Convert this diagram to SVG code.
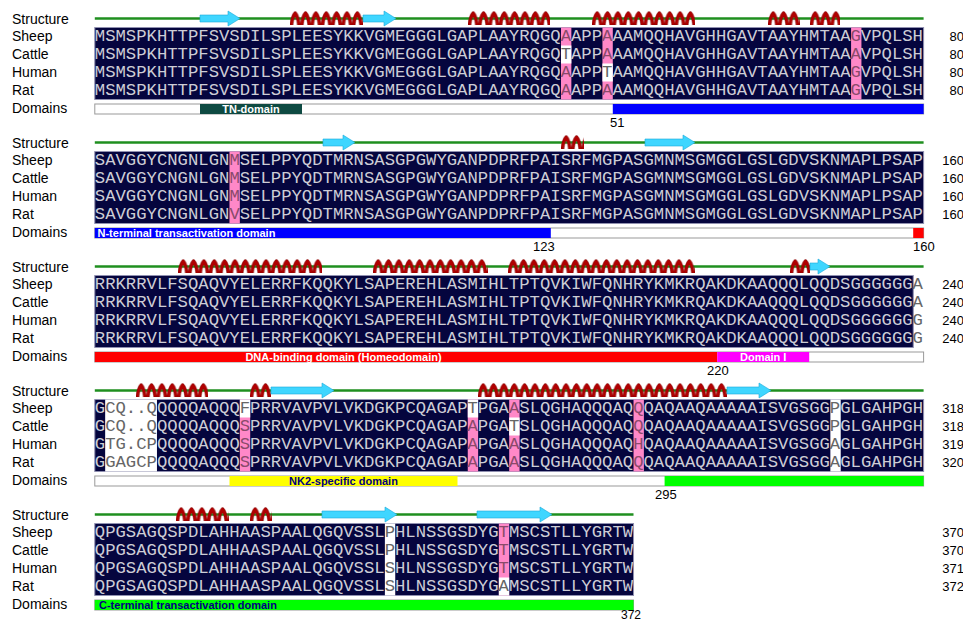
<svg xmlns="http://www.w3.org/2000/svg" width="963" height="621" viewBox="0 0 963 621">
<style>
.lbl{font-family:"Liberation Sans",Arial,sans-serif;font-size:14px;fill:#000}
.num{font-family:"Liberation Sans",Arial,sans-serif;font-size:13px;fill:#000}
.seq{font-family:"Liberation Mono","Courier New",monospace;font-size:17.26px;fill:#cdcdd6}
.w{fill:#666}
.p{fill:#8a4a6a}
.bg{fill:#05053e;stroke:#9090b0;stroke-width:1}
.pc{fill:#ff88c8}
.wc{fill:#fff}
.line{stroke:#1f8f1f;stroke-width:2.5}
.strand{fill:#3fd6ff;stroke:#1aa8d8;stroke-width:0.6}
.bar{fill:#fff;stroke:#999;stroke-width:1}
.dl{font-family:"Liberation Sans",Arial,sans-serif;font-size:11px;font-weight:bold}
</style>
<defs>
<pattern id="hx" patternUnits="userSpaceOnUse" x="0" y="11" width="10.36" height="14">
<path d="M-0.3,14 C1.2,5 3.3,0.6 5.18,0.6 C7.06,0.6 9.16,5 10.66,14 L7.4,14 C6.7,9.5 6.1,6 5.18,6 C4.26,6 3.66,9.5 2.96,14 Z" fill="#b00000" stroke="#7a0000" stroke-width="0.5"/>
</pattern>
</defs>
<rect width="963" height="621" fill="#fff"/>

<!-- Block 1 -->
<g id="block1">
<g class="labels">
<text class="lbl" x="12" y="23.5">Structure</text>
<text class="lbl" x="12" y="41">Sheep</text>
<text class="lbl" x="12" y="59">Cattle</text>
<text class="lbl" x="12" y="77">Human</text>
<text class="lbl" x="12" y="95">Rat</text>
<text class="lbl" x="12" y="113">Domains</text>
</g>
<g id="structure1">
<line class="line" x1="94.8" y1="18.5" x2="923.6" y2="18.5"/>
<polygon class="strand" points="200,15 228,15 228,11 240,18.5 228,26 228,22 200,22"/>
<polygon class="strand" points="363,15 384,15 384,11 396,18.5 384,26 384,22 363,22"/>
<g transform="translate(290,0)"><rect y="11" width="73" height="14" fill="url(#hx)"/></g>
<g transform="translate(468,0)"><rect y="11" width="82" height="14" fill="url(#hx)"/></g>
<g transform="translate(592,0)"><rect y="11" width="103" height="14" fill="url(#hx)"/></g>
<g transform="translate(768,0)"><rect y="11" width="32" height="14" fill="url(#hx)"/></g>
<g transform="translate(810,0)"><rect y="11" width="30" height="14" fill="url(#hx)"/></g>
</g>
<g id="alignment1">
<rect class="bg" x="94.8" y="27.5" width="828.8" height="72"/>
<rect class="pc" x="561" y="27.5" width="10.36" height="72"/>
<rect class="wc" x="561" y="45.5" width="10.36" height="18"/>
<rect class="pc" x="602.44" y="27.5" width="10.36" height="72"/>
<rect class="wc" x="602.44" y="63.5" width="10.36" height="18"/>
<rect class="pc" x="851.08" y="27.5" width="10.36" height="72"/>
<text class="seq" x="94.8" y="41">MSMSPKHTTPFSVSDILSPLEESYKKVGMEGGGLGAPLAAYRQGQ<tspan class="p">A</tspan>APP<tspan class="p">A</tspan>AAMQQHAVGHHGAVTAAYHMTAA<tspan class="p">G</tspan>VPQLSH</text>
<text class="seq" x="94.8" y="59">MSMSPKHTTPFSVSDILSPLEESYKKVGMEGGGLGAPLAAYRQGQ<tspan class="w">T</tspan>APP<tspan class="p">A</tspan>AAMQQHAVGHHGAVTAAYHMTAA<tspan class="p">A</tspan>VPQLSH</text>
<text class="seq" x="94.8" y="77">MSMSPKHTTPFSVSDILSPLEESYKKVGMEGGGLGAPLAAYRQGQ<tspan class="p">A</tspan>APP<tspan class="w">T</tspan>AAMQQHAVGHHGAVTAAYHMTAA<tspan class="p">G</tspan>VPQLSH</text>
<text class="seq" x="94.8" y="95">MSMSPKHTTPFSVSDILSPLEESYKKVGMEGGGLGAPLAAYRQGQ<tspan class="p">A</tspan>APP<tspan class="p">A</tspan>AAMQQHAVGHHGAVTAAYHMTAA<tspan class="p">G</tspan>VPQLSH</text>
<text class="num" x="964" y="41" text-anchor="end">80</text>
<text class="num" x="964" y="59" text-anchor="end">80</text>
<text class="num" x="964" y="77" text-anchor="end">80</text>
<text class="num" x="964" y="95" text-anchor="end">80</text>
</g>
<g id="domains1">
<rect class="bar" x="94.8" y="104" width="828.8" height="10"/>
<rect x="200" y="104" width="102" height="10" fill="#0e4a42"/>
<text class="dl" x="251" y="112.8" text-anchor="middle" fill="#fff">TN-domain</text>
<rect x="612.8" y="104" width="310.8" height="10" fill="#0000ff"/>
<text class="num" x="610" y="126.5">51</text>
</g>
</g>

<!-- Block 2 -->
<g id="block2" transform="translate(0,124)">
<g class="labels">
<text class="lbl" x="12" y="23.5">Structure</text>
<text class="lbl" x="12" y="41">Sheep</text>
<text class="lbl" x="12" y="59">Cattle</text>
<text class="lbl" x="12" y="77">Human</text>
<text class="lbl" x="12" y="95">Rat</text>
<text class="lbl" x="12" y="113">Domains</text>
</g>
<g id="structure2">
<line class="line" x1="94.8" y1="18.5" x2="923.6" y2="18.5"/>
<polygon class="strand" points="323,15 343,15 343,11 355,18.5 343,26 343,22 323,22"/>
<polygon class="strand" points="645,15 683,15 683,11 695,18.5 683,26 683,22 645,22"/>
<g transform="translate(561,0)"><rect y="11" width="23" height="14" fill="url(#hx)"/></g>
</g>
<g id="alignment2">
<rect class="bg" x="94.8" y="27.5" width="828.8" height="72"/>
<rect class="pc" x="229.48" y="27.5" width="10.36" height="72"/>
<text class="seq" x="94.8" y="41">SAVGGYCNGNLGN<tspan class="p">M</tspan>SELPPYQDTMRNSASGPGWYGANPDPRFPAISRFMGPASGMNMSGMGGLGSLGDVSKNMAPLPSAP</text>
<text class="seq" x="94.8" y="59">SAVGGYCNGNLGN<tspan class="p">M</tspan>SELPPYQDTMRNSASGPGWYGANPDPRFPAISRFMGPASGMNMSGMGGLGSLGDVSKNMAPLPSAP</text>
<text class="seq" x="94.8" y="77">SAVGGYCNGNLGN<tspan class="p">M</tspan>SELPPYQDTMRNSASGPGWYGANPDPRFPAISRFMGPASGMNMSGMGGLGSLGDVSKNMAPLPSAP</text>
<text class="seq" x="94.8" y="95">SAVGGYCNGNLGN<tspan class="p">V</tspan>SELPPYQDTMRNSASGPGWYGANPDPRFPAISRFMGPASGMNMSGMGGLGSLGDVSKNMAPLPSAP</text>
<text class="num" x="964" y="41" text-anchor="end">160</text>
<text class="num" x="964" y="59" text-anchor="end">160</text>
<text class="num" x="964" y="77" text-anchor="end">160</text>
<text class="num" x="964" y="95" text-anchor="end">160</text>
</g>
<g id="domains2">
<rect class="bar" x="94.8" y="104" width="828.8" height="10"/>
<rect x="94.8" y="104" width="456" height="10" fill="#0000ff"/>
<text class="dl" x="97.5" y="112.8" fill="#fff">N-terminal transactivation domain</text>
<rect x="913.2" y="104" width="10.4" height="10" fill="#ff0000"/>
<text class="num" x="533" y="126.5">123</text>
<text class="num" x="913" y="126.5">160</text>
</g>
</g>

<!-- Block 3 -->
<g id="block3" transform="translate(0,248)">
<g class="labels">
<text class="lbl" x="12" y="23.5">Structure</text>
<text class="lbl" x="12" y="41">Sheep</text>
<text class="lbl" x="12" y="59">Cattle</text>
<text class="lbl" x="12" y="77">Human</text>
<text class="lbl" x="12" y="95">Rat</text>
<text class="lbl" x="12" y="113">Domains</text>
</g>
<g id="structure3">
<line class="line" x1="94.8" y1="18.5" x2="923.6" y2="18.5"/>
<g transform="translate(178,0)"><rect y="11" width="144" height="14" fill="url(#hx)"/></g>
<g transform="translate(373,0)"><rect y="11" width="115" height="14" fill="url(#hx)"/></g>
<g transform="translate(508,0)"><rect y="11" width="187" height="14" fill="url(#hx)"/></g>
<g transform="translate(790,0)"><rect y="11" width="20" height="14" fill="url(#hx)"/></g>
<polygon class="strand" points="810,15 818,15 818,11 830,18.5 818,26 818,22 810,22"/>
</g>
<g id="alignment3">
<rect class="bg" x="94.8" y="27.5" width="818.44" height="72"/>
<text class="seq" x="94.8" y="41">RRKRRVLFSQAQVYELERRFKQQKYLSAPEREHLASMIHLTPTQVKIWFQNHRYKMKRQAKDKAAQQQLQQDSGGGGGG<tspan class="w">A</tspan></text>
<text class="seq" x="94.8" y="59">RRKRRVLFSQAQVYELERRFKQQKYLSAPEREHLASMIHLTPTQVKIWFQNHRYKMKRQAKDKAAQQQLQQDSGGGGGG<tspan class="w">A</tspan></text>
<text class="seq" x="94.8" y="77">RRKRRVLFSQAQVYELERRFKQQKYLSAPEREHLASMIHLTPTQVKIWFQNHRYKMKRQAKDKAAQQQLQQDSGGGGGG<tspan class="w">G</tspan></text>
<text class="seq" x="94.8" y="95">RRKRRVLFSQAQVYELERRFKQQKYLSAPEREHLASMIHLTPTQVKIWFQNHRYKMKRQAKDKAAQQQLQQDSGGGGGG<tspan class="w">G</tspan></text>
<text class="num" x="964" y="41" text-anchor="end">240</text>
<text class="num" x="964" y="59" text-anchor="end">240</text>
<text class="num" x="964" y="77" text-anchor="end">240</text>
<text class="num" x="964" y="95" text-anchor="end">240</text>
</g>
<g id="domains3">
<rect class="bar" x="94.8" y="104" width="828.8" height="10"/>
<rect x="94.8" y="104" width="622.4" height="10" fill="#ff0000"/>
<text class="dl" x="343.5" y="112.8" text-anchor="middle" fill="#fff">DNA-binding domain (Homeodomain)</text>
<rect x="717.2" y="104" width="92" height="10" fill="#ff00ff"/>
<text class="dl" x="763.2" y="112.8" text-anchor="middle" fill="#fff">Domain I</text>
<text class="num" x="707" y="126.5">220</text>
</g>
</g>

<!-- Block 4 -->
<g id="block4" transform="translate(0,372)">
<g class="labels">
<text class="lbl" x="12" y="23.5">Structure</text>
<text class="lbl" x="12" y="41">Sheep</text>
<text class="lbl" x="12" y="59">Cattle</text>
<text class="lbl" x="12" y="77">Human</text>
<text class="lbl" x="12" y="95">Rat</text>
<text class="lbl" x="12" y="113">Domains</text>
</g>
<g id="structure4">
<line class="line" x1="94.8" y1="18.5" x2="923.6" y2="18.5"/>
<g transform="translate(136,0)"><rect y="11" width="72" height="14" fill="url(#hx)"/></g>
<g transform="translate(250,0)"><rect y="11" width="21" height="14" fill="url(#hx)"/></g>
<g transform="translate(478,0)"><rect y="11" width="249" height="14" fill="url(#hx)"/></g>
<polygon class="strand" points="271,15 322,15 322,11 334,18.5 322,26 322,22 271,22"/>
<polygon class="strand" points="727,15 759,15 759,11 771,18.5 759,26 759,22 727,22"/>
</g>
<g id="alignment4">
<rect class="bg" x="94.8" y="27.5" width="828.8" height="72"/>
<rect class="wc" x="105.16" y="27.5" width="51.8" height="72"/>
<rect class="pc" x="239.84" y="27.5" width="10.36" height="72"/>
<rect class="wc" x="239.84" y="27.5" width="10.36" height="18"/>
<rect class="pc" x="467.76" y="27.5" width="10.36" height="72"/>
<rect class="wc" x="467.76" y="27.5" width="10.36" height="18"/>
<rect class="pc" x="509.2" y="27.5" width="10.36" height="72"/>
<rect class="wc" x="509.2" y="45.5" width="10.36" height="18"/>
<rect class="pc" x="633.52" y="27.5" width="10.36" height="72"/>
<rect class="wc" x="830.36" y="27.5" width="10.36" height="72"/>
<text class="seq" x="94.8" y="41">G<tspan class="w">CQ..Q</tspan>QQQQAQQQ<tspan class="w">F</tspan>PRRVAVPVLVKDGKPCQAGAP<tspan class="w">T</tspan>PGA<tspan class="p">A</tspan>SLQGHAQQQAQ<tspan class="p">Q</tspan>QAQAAQAAAAAISVGSGG<tspan class="w">P</tspan>GLGAHPGH</text>
<text class="seq" x="94.8" y="59">G<tspan class="w">CQ..Q</tspan>QQQQAQQQ<tspan class="p">S</tspan>PRRVAVPVLVKDGKPCQAGAP<tspan class="p">A</tspan>PGA<tspan class="w">T</tspan>SLQGHAQQQAQ<tspan class="p">Q</tspan>QAQAAQAAAAAISVGSGG<tspan class="w">P</tspan>GLGAHPGH</text>
<text class="seq" x="94.8" y="77">G<tspan class="w">TG.CP</tspan>QQQQAQQQ<tspan class="p">S</tspan>PRRVAVPVLVKDGKPCQAGAP<tspan class="p">A</tspan>PGA<tspan class="p">A</tspan>SLQGHAQQQAQ<tspan class="p">H</tspan>QAQAAQAAAAAISVGSGG<tspan class="w">A</tspan>GLGAHPGH</text>
<text class="seq" x="94.8" y="95">G<tspan class="w">GAGCP</tspan>QQQQAQQQ<tspan class="p">S</tspan>PRRVAVPVLVKDGKPCQAGAP<tspan class="p">A</tspan>PGA<tspan class="p">A</tspan>SLQGHAQQQAQ<tspan class="p">Q</tspan>QAQAAQAAAAAISVGSGG<tspan class="w">A</tspan>GLGAHPGH</text>
<text class="num" x="964" y="41" text-anchor="end">318</text>
<text class="num" x="964" y="59" text-anchor="end">318</text>
<text class="num" x="964" y="77" text-anchor="end">319</text>
<text class="num" x="964" y="95" text-anchor="end">320</text>
</g>
<g id="domains4">
<rect class="bar" x="94.8" y="104" width="828.8" height="10"/>
<rect x="229.5" y="104" width="228" height="10" fill="#ffff00"/>
<text class="dl" x="343.5" y="112.8" text-anchor="middle" fill="#000080">NK2-specific domain</text>
<rect x="664.6" y="104" width="259" height="10" fill="#00ff00"/>
<text class="num" x="655" y="126.5">295</text>
</g>
</g>

<!-- Block 5 -->
<g id="block5" transform="translate(0,496)">
<g class="labels">
<text class="lbl" x="12" y="23.5">Structure</text>
<text class="lbl" x="12" y="41">Sheep</text>
<text class="lbl" x="12" y="59">Cattle</text>
<text class="lbl" x="12" y="77">Human</text>
<text class="lbl" x="12" y="95">Rat</text>
<text class="lbl" x="12" y="113">Domains</text>
</g>
<g id="structure5">
<line class="line" x1="94.8" y1="18.5" x2="633.5" y2="18.5"/>
<g transform="translate(176,0)"><rect y="11" width="53" height="14" fill="url(#hx)"/></g>
<g transform="translate(250,0)"><rect y="11" width="22" height="14" fill="url(#hx)"/></g>
<polygon class="strand" points="322,15 385,15 385,11 397,18.5 385,26 385,22 322,22"/>
<polygon class="strand" points="477,15 540,15 540,11 552,18.5 540,26 540,22 477,22"/>
</g>
<g id="alignment5">
<rect class="bg" x="94.8" y="27.5" width="538.72" height="72"/>
<rect class="wc" x="384.88" y="27.5" width="10.36" height="72"/>
<rect class="pc" x="498.84" y="27.5" width="10.36" height="72"/>
<rect class="wc" x="498.84" y="81.5" width="10.36" height="18"/>
<text class="seq" x="94.8" y="41">QPGSAGQSPDLAHHAASPAALQGQVSSL<tspan class="w">P</tspan>HLNSSGSDYG<tspan class="p">T</tspan>MSCSTLLYGRTW</text>
<text class="seq" x="94.8" y="59">QPGSAGQSPDLAHHAASPAALQGQVSSL<tspan class="w">P</tspan>HLNSSGSDYG<tspan class="p">T</tspan>MSCSTLLYGRTW</text>
<text class="seq" x="94.8" y="77">QPGSAGQSPDLAHHAASPAALQGQVSSL<tspan class="w">S</tspan>HLNSSGSDYG<tspan class="p">T</tspan>MSCSTLLYGRTW</text>
<text class="seq" x="94.8" y="95">QPGSAGQSPDLAHHAASPAALQGQVSSL<tspan class="w">S</tspan>HLNSSGSDYG<tspan class="w">A</tspan>MSCSTLLYGRTW</text>
<text class="num" x="964" y="41" text-anchor="end">370</text>
<text class="num" x="964" y="59" text-anchor="end">370</text>
<text class="num" x="964" y="77" text-anchor="end">371</text>
<text class="num" x="964" y="95" text-anchor="end">372</text>
</g>
<g id="domains5">
<rect class="bar" x="94.8" y="104" width="538.72" height="10"/>
<rect x="94.8" y="104" width="538.72" height="10" fill="#00ff00"/>
<text class="dl" x="99" y="112.8" fill="#000080">C-terminal transactivation domain</text>
<text class="num" x="621" y="122.5" style="font-size:12px">372</text>
</g>
</g>
</svg>
